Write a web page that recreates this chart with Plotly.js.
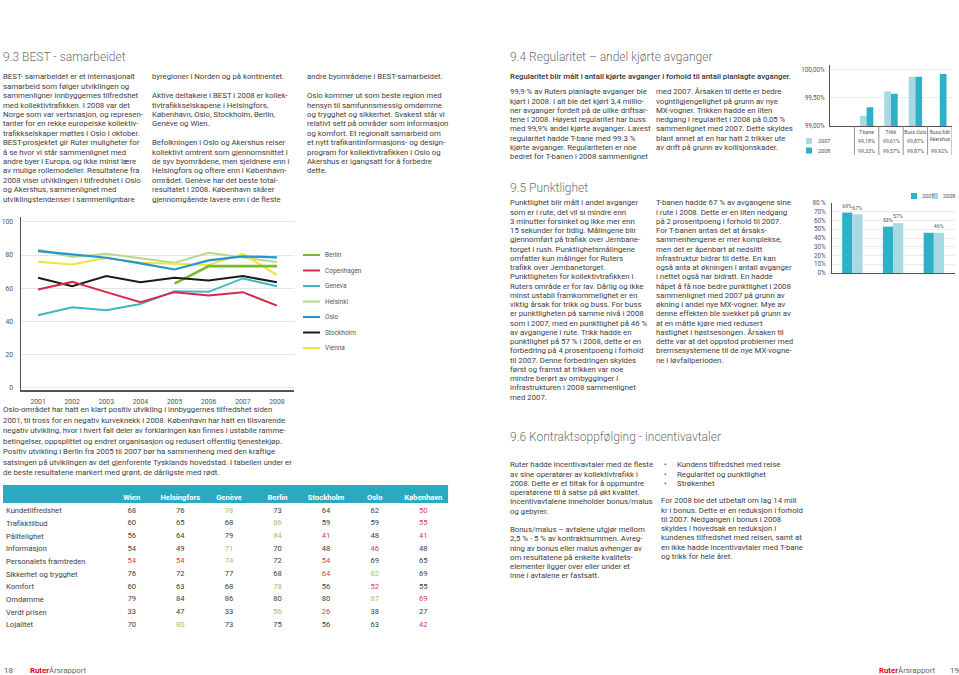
<!DOCTYPE html>
<html><head><meta charset="utf-8">
<script src="https://cdn.plot.ly/plotly-3.0.1.min.js"></script>
<style>
body{margin:0;background:#fff;}
#page{position:relative;width:959px;height:675px;overflow:hidden;font-family:Roboto,"Open Sans",sans-serif;color:#3e3e3e;}
.t{position:absolute;white-space:nowrap;font-size:7.8px;}
.l{line-height:9.4px;}
.r{line-height:9.25px;}
.h{position:absolute;white-space:nowrap;font-size:12px;line-height:14px;color:#707070;font-weight:300;}
.chart{position:absolute;}
.red{color:#e2001a;font-weight:700;}
</style></head><body><div id="page">

<div class="h" style="left:3px;top:50px;">9.3 BEST - samarbeidet</div>
<div class="t l" style="left:3px;top:72.3px;">BEST- samarbeidet er et internasjonalt<br>samarbeid som følger utviklingen og<br>sammenligner innbyggernes tilfredshet<br>med kollektivtrafikken. I 2008 var det<br>Norge som var vertsnasjon, og represen-<br>tanter for en rekke europeiske kollektiv-<br>trafikkselskaper møttes i Oslo i oktober.<br>BEST-prosjektet gir Ruter muligheter for<br>å se hvor vi står sammenlignet med<br>andre byer i Europa, og ikke minst lære<br>av mulige rollemodeller. Resultatene fra<br>2008 viser utviklingen i tilfredshet i Oslo<br>og Akershus, sammenlignet med<br>utviklingstendenser i sammenlignbare</div>
<div class="t l" style="left:152px;top:72.3px;">byregioner i Norden og på kontinentet.<br><br>Aktive deltakere i BEST i 2008 er kollek-<br>tivtrafikkselskapene i Helsingfors,<br>København, Oslo, Stockholm, Berlin,<br>Genève og Wien.<br><br>Befolkningen i Oslo og Akershus reiser<br>kollektivt omtrent som gjennomsnittet i<br>de syv byområdene, men sjeldnere enn i<br>Helsingfors og oftere enn i København-<br>området. Genève har det beste total-<br>resultatet i 2008. København skårer<br>gjennomgående lavere enn i de fleste</div>
<div class="t l" style="left:307px;top:72.3px;">andre byområdene i BEST-samarbeidet.<br><br>Oslo kommer ut som beste region med<br>hensyn til samfunnsmessig omdømme<br>og trygghet og sikkerhet. Svakest står vi<br>relativt sett på områder som informasjon<br>og komfort. Et regionalt samarbeid om<br>et nytt trafikantinformasjons- og design-<br>program for kollektivtrafikken i Oslo og<br>Akershus er igangsatt for å forbedre<br>dette.</div>

<div class="chart" id="lineChart" style="left:0px;top:205px;width:390px;height:210px;"></div>

<div class="t" style="left:3px;top:405px;line-height:10.5px;">Oslo-området har hatt en klart positiv utvikling i innbyggernes tilfredshet siden<br>2001, til tross for en negativ kurveknekk i 2008. København har hatt en tilsvarende<br>negativ utvikling, hvor i hvert fall deler av forklaringen kan finnes i ustabile ramme-<br>betingelser, oppsplittet og endret organisasjon og redusert offentlig tjenestekjøp.<br>Positiv utvikling i Berlin fra 2005 til 2007 bør ha sammenheng med den kraftige<br>satsingen på utviklingen av det gjenforente Tysklands hovedstad. I tabellen under er<br>de beste  resultatene markert med grønt, de dårligste med rødt.</div>

<div class="chart" id="tableChart" style="left:3px;top:485px;width:446px;height:152px;"></div>

<div class="h" style="left:510px;top:50px;">9.4 Regularitet – andel kjørte avganger</div>
<div class="t" style="left:510px;top:72.4px;line-height:9.25px;color:#333;font-weight:500;">Regularitet blir målt i antall kjørte avganger i forhold til antall planlagte avganger.</div>
<div class="t r" style="left:510px;top:87.4px;">99,9 % av Ruters planlagte avganger ble<br>kjørt i 2008. I alt ble det kjørt 3,4 millio-<br>ner avganger fordelt på de ulike driftsar-<br>tene i 2008. Høyest regularitet har buss<br>med 99,9% andel kjørte avganger. Lavest<br>regularitet hadde T-bane med 99.3 %<br>kjørte avganger. Regulariteten er noe<br>bedret for T-banen i 2008 sammenlignet</div>
<div class="t r" style="left:656px;top:87.4px;">med 2007. Årsaken til dette er bedre<br>vogntilgjengelighet på grunn av nye<br>MX-vogner. Trikken hadde en liten<br>nedgang i regularitet i 2008 på 0,05 %<br>sammenlignet med 2007. Dette skyldes<br>blant annet at en har hatt 2 trikker ute<br>av drift på grunn av kollisjonskader.</div>

<div class="chart" id="regChart" style="left:780px;top:55px;width:179px;height:110px;"></div>

<div class="h" style="left:510px;top:181px;">9.5 Punktlighet</div>
<div class="t r" style="left:510px;top:198.4px;">Punktlighet blir målt i andel avganger<br>som er i rute, det vil si mindre enn<br>3 minutter forsinket og ikke mer enn<br>15 sekunder for tidlig. Målingene blir<br>gjennomført på trafikk over Jernbane-<br>torget i rush. Punktlighetsmålingene<br>omfatter kun målinger for Ruters<br>trafikk over Jernbanetorget.<br>Punktligheten for kollektivtrafikken i<br>Ruters område er for lav. Dårlig og ikke<br>minst ustabil framkommelighet er en<br>viktig årsak for trikk og buss. For buss<br>er punktligheten på samme nivå i 2008<br>som i 2007, med en punktlighet på 46 %<br>av avgangene i rute. Trikk hadde en<br>punktlighet på 57 % i 2008, dette er en<br>forbedring på 4 prosentpoeng i forhold<br>til 2007. Denne forbedringen skyldes<br>først og framst at trikken var noe<br>mindre berørt av ombygginger i<br>infrastrukturen i 2008 sammenlignet<br>med 2007.</div>
<div class="t r" style="left:656px;top:198.4px;">T-banen hadde 67 % av avgangene sine<br>i rute i 2008. Dette er en liten nedgang<br>på 2 prosentpoeng i forhold til 2007.<br>For T-banen antas det at årsaks-<br>sammenhengene er mer komplekse,<br>men det er åpenbart at nedslitt<br>infrastruktur bidrar til dette. En kan<br>også anta at økningen i antall avganger<br>i nettet også har bidratt. En hadde<br>håpet å få noe bedre punktlighet i 2008<br>sammenlignet med 2007 på grunn av<br>økning i andel nye MX-vogner. Mye av<br>denne effekten ble svekket på grunn av<br>at en måtte kjøre med redusert<br>hastighet i høstsesongen. Årsaken til<br>dette var at det oppstod problemer med<br>bremsesystemene til de nye MX-vogne-<br>ne i løvfallperioden.</div>

<div class="chart" id="punktChart" style="left:780px;top:190px;width:179px;height:95px;"></div>

<div class="h" style="left:510px;top:430px;">9.6 Kontraktsoppfølging - incentivavtaler</div>
<div class="t r" style="left:510px;top:460.4px;">Ruter hadde incentivavtaler med de fleste<br>av sine operatører av kollektivtrafikk i<br>2008. Dette er et tiltak for å oppmuntre<br>operatørene til å satse på økt kvalitet.<br>Incentivavtalene inneholder bonus/malus<br>og gebyrer.<br><br>Bonus/malus – avtalene utgjør mellom<br>2,5 % - 5 % av kontraktsummen. Avreg-<br>ning av bonus eller malus avhenger av<br>om resultatene på enkelte kvalitets-<br>elementer ligger over eller under et<br>inne i avtalene er fastsatt.</div>
<div class="t r" style="left:664px;top:460.4px;">•<br>•<br>•</div>
<div class="t r" style="left:677px;top:460.4px;">Kundens tilfredshet med reise<br>Regularitet og punktlighet<br>Strøkenhet</div>
<div class="t r" style="left:661px;top:496.4px;">For 2008 ble det utbetalt om lag 14 mill<br>kr i bonus. Dette er en reduksjon i forhold<br>til 2007. Nedgangen i bonus i 2008<br>skyldes i hovedsak en reduksjon i<br>kundenes tilfredshet med reisen, samt at<br>en ikke hadde incentivavtaler med T-bane<br>og trikk for hele året.</div>

<div class="t" style="left:4px;top:666px;line-height:10px;color:#555;">18</div>
<div class="t" style="left:30px;top:666px;line-height:10px;color:#666;"><span class="red">Ruter</span>Årsrapport</div>
<div class="t" style="left:879px;top:666px;line-height:10px;color:#666;"><span class="red">Ruter</span>Årsrapport</div>
<div class="t" style="left:950px;top:666px;line-height:10px;color:#555;">19</div>

</div>
<script>
// ---- Line chart data (BEST satisfaction index) ----
const years = [2001, 2002, 2003, 2004, 2005, 2006, 2007, 2008];
const berlin = [null, null, null, null, 62.8, 73.3, 73.3, 73.3];
const copenhagen = [59.2, 63.8, 57.6, 51.5, 57.6, 55.6, 57.6, 49.5];
const geneva = [43.6, 48.5, 46.7, 50.5, 58.2, 57.8, 65.9, 61.2];
const helsinki = [83.4, 78.8, 80.8, 78.0, 75.4, 81.4, 78.8, 75.8];
const osloLine = [82.4, 80.4, 78.4, 75.0, 71.3, 76.8, 79.2, 78.6];
const stockholmLine = [66.3, 61.2, 67.3, 63.6, 66.3, 64.6, 67.3, 63.6];
const vienna = [76.0, 74.3, 78.4, 75.4, 74.7, 74.0, 80.8, 67.9];
const lineNames = ['Berlin', 'Copenhagen', 'Geneva', 'Helsinki', 'Oslo', 'Stockholm', 'Vienna'];
const yTicks = [0, 20, 40, 60, 80, 100];

// ---- Table data ----
const cities = ['Wien', 'Helsingfors', 'Genève', 'Berlin', 'Stockholm', 'Oslo', 'København'];
const criteria = ['Kundetilfredshet', 'Trafikktilbud', 'Pålitelighet', 'Informasjon', 'Personalets framtreden',
  'Sikkerhet og trygghet', 'Komfort', 'Omdømme', 'Verdt prisen', 'Lojalitet'];
const wien = [68, 60, 56, 54, 54, 76, 60, 79, 33, 70];
const helsingfors = [76, 65, 64, 49, 54, 72, 63, 84, 47, 80];
const geneve = [78, 68, 79, 71, 74, 77, 68, 86, 33, 73];
const berlinT = [73, 86, 84, 70, 72, 68, 78, 80, 56, 75];
const stockholmT = [64, 59, 41, 48, 54, 64, 56, 80, 26, 56];
const osloT = [62, 59, 48, 46, 69, 82, 52, 87, 38, 63];
const kobenhavn = [50, 55, 41, 48, 65, 69, 55, 69, 27, 42];

// ---- Regularity data ----
const regModes = ['T-bane', 'Trikk', 'Buss-Oslo', 'Buss/båt<br>Akershus'];
const reg2007 = [99.18, 99.61, 99.87, null];
const reg2008 = [99.33, 99.57, 99.87, 99.92];
const regTickVals = [99, 99.5, 100];
const regTickText = ['99,00%', '99,50%', '100,00%'];
const regYears = ['2007', '2008'];

// ---- Punctuality data ----
const punktModes = ['T-bane', 'Trikk', 'Buss'];
const punkt2007 = [69, 53, 46];
const punkt2008 = [67, 57, 46];
const punktTickVals = [0, 10, 20, 30, 40, 50, 60, 70, 80];
const punktTickText = ['0%', '10%', '20%', '30%', '40%', '50%', '60%', '70%', '80 %'];

const FONT = 'Roboto, "Open Sans", sans-serif';
const cfg = {staticPlot: true, displayModeBar: false};
const TRANSP = 'rgba(0,0,0,0)';

// ===== Line chart =====
const lineSeries = [berlin, copenhagen, geneva, helsinki, osloLine, stockholmLine, vienna];
const lineColors = ['#7cb82f', '#d9264a', '#3db6c5', '#b9d78e', '#1f98d3', '#1b1b1b', '#f1e43a'];
const lineWidths = [2.6, 2, 2, 2, 2.2, 2, 2];
const drawOrder = [3, 6, 4, 0, 5, 2, 1];
const lineTraces = drawOrder.map(i => ({
  type: 'scatter', mode: 'lines', x: years, y: lineSeries[i], name: lineNames[i],
  line: {color: lineColors[i], width: lineWidths[i]}, connectgaps: false, showlegend: false
}));
const L = {l: 21, r: 96, t: 12, b: 25, w: 390, h: 210};
const pw = L.w - L.l - L.r, ph = L.h - L.t - L.b;
const px = p => (p - L.l) / pw;
const py = p => (L.h - L.b - (p - 205)) / ph;
const legShapes = [], legAnn = [];
lineNames.forEach((n, i) => {
  const yc = 255 + i * 15.5;
  legShapes.push({type: 'line', xref: 'paper', yref: 'paper', x0: px(303), x1: px(320), y0: py(yc), y1: py(yc),
    line: {color: lineColors[i], width: 2}});
  legAnn.push({xref: 'paper', yref: 'paper', x: px(323), y: py(yc), xanchor: 'left', yanchor: 'middle',
    text: n, showarrow: false, font: {size: 6.5, color: '#555'}});
});
Plotly.newPlot('lineChart', lineTraces, {
  width: L.w, height: L.h, margin: {l: L.l, r: L.r, t: L.t, b: L.b},
  paper_bgcolor: TRANSP, plot_bgcolor: TRANSP,
  font: {family: FONT, size: 6.8, color: '#555'},
  xaxis: {range: [2000.5, 2008.5], tickvals: years, showgrid: false, zeroline: false, showline: true,
    linecolor: '#555', linewidth: 1.5, ticks: 'outside', ticklen: 4, tickcolor: TRANSP},
  yaxis: {range: [-1.5, 103], tickvals: yTicks, showgrid: true, gridcolor: '#e4e4e4', gridwidth: 1,
    zeroline: false, showline: true, linecolor: '#555', linewidth: 1.5, ticks: 'outside', ticklen: 5, tickcolor: TRANSP},
  shapes: legShapes, annotations: legAnn, showlegend: false
}, cfg);

// ===== Table (text marks on category-like numeric axes) =====
const tableCols = [wien, helsingfors, geneve, berlinT, stockholmT, osloT, kobenhavn];
const GREEN = '#9cc46a', RED = '#d4405d', DARK = '#3e3e3e';
const rowMax = criteria.map((c, r) => Math.max(...tableCols.map(col => col[r])));
const rowMin = criteria.map((c, r) => Math.min(...tableCols.map(col => col[r])));
const tx = [], ty = [], tt = [], tc = [];
tableCols.forEach((col, ci) => col.forEach((v, r) => {
  tx.push(ci); ty.push(r); tt.push(String(v));
  tc.push(v === rowMax[r] ? GREEN : (v === rowMin[r] ? RED : DARK));
}));
const T = {w: 446, h: 152, t: 18};
const tph = T.h - T.t;
const rowPitch = 12.67, firstRow = 7.7, colPitch = 48.6, firstCol = 128.7;
Plotly.newPlot('tableChart', [{
  type: 'scatter', mode: 'text', x: tx, y: ty, text: tt, textposition: 'middle center',
  textfont: {family: FONT, size: 7.6, color: tc}, cliponaxis: false, hoverinfo: 'skip'
}], {
  width: T.w, height: T.h, margin: {l: 0, r: 0, t: T.t, b: 0},
  paper_bgcolor: TRANSP, plot_bgcolor: TRANSP, showlegend: false,
  font: {family: FONT, size: 7.6, color: DARK},
  xaxis: {range: [-firstCol / colPitch, (T.w - firstCol) / colPitch], side: 'top', tickvals: cities.map((c, i) => i),
    ticktext: cities.map(c => '<b>' + c + '</b>'), ticks: '', ticklen: 0, showgrid: false, zeroline: false,
    showline: false, tickfont: {size: 7.6, color: '#ffffff'}},
  yaxis: {range: [(tph - firstRow) / rowPitch, -firstRow / rowPitch], tickvals: criteria.map((c, i) => i),
    ticktext: criteria, ticklabelposition: 'inside', ticks: '', showgrid: false, zeroline: false, showline: false,
    tickfont: {size: 7.6, color: DARK}},
  shapes: [{type: 'rect', xref: 'paper', yref: 'paper', x0: 0, x1: 0.998, y0: 1, y1: 1 + T.t / tph,
    fillcolor: '#2aa9c1', line: {width: 0}, layer: 'below'}]
}, cfg);

// ===== Regularity chart =====
const LIGHT = '#a7d9e3', TEAL = '#2db1c6';
const R = {l: 50, r: 7, t: 10, b: 39, w: 179, h: 110};
const rpw = R.w - R.l - R.r, rph = R.h - R.t - R.b;
const rxp = p => (p - 780 - R.l) / rpw;
const ryp = p => (R.h - R.b - (p - 55)) / rph;
const fmt = v => v == null ? '' : v.toFixed(2).replace('.', ',') + '%';
const regAnn = [], regShapes = [];
[reg2007, reg2008].forEach((arr, k) => {
  const yc = k === 0 ? 141 : 150.5;
  arr.forEach((v, i) => regAnn.push({xref: 'x', yref: 'paper', x: i, y: ryp(yc), text: fmt(v), showarrow: false,
    font: {size: 5.3, color: '#555'}, xanchor: 'center', yanchor: 'middle'}));
  regAnn.push({xref: 'paper', yref: 'paper', x: rxp(816), y: ryp(yc), text: regYears[k], showarrow: false,
    xanchor: 'left', yanchor: 'middle', font: {size: 5.5, color: '#555'}});
  regShapes.push({type: 'rect', xref: 'paper', yref: 'paper', x0: rxp(806), x1: rxp(812), y0: ryp(yc - 3), y1: ryp(yc + 3),
    fillcolor: k === 0 ? LIGHT : TEAL, line: {width: 0}});
});
[-0.5, 0.5, 1.5, 2.5, 3.5].forEach(x => regShapes.push({type: 'line', xref: 'x', yref: 'paper', x0: x, x1: x,
  y0: 0, y1: ryp(155), line: {color: '#777', width: 0.8}}));
Plotly.newPlot('regChart', [
  {type: 'bar', x: regModes, y: reg2007, name: '2007', marker: {color: LIGHT}},
  {type: 'bar', x: regModes, y: reg2008, name: '2008', marker: {color: TEAL}}
], {
  width: R.w, height: R.h, margin: {l: R.l, r: R.r, t: R.t, b: R.b},
  paper_bgcolor: TRANSP, plot_bgcolor: TRANSP, barmode: 'group', bargap: 0.45, bargroupgap: 0,
  font: {family: FONT, size: 6, color: '#555'}, showlegend: false,
  xaxis: {type: 'category', range: [-1.5, 3.5], showgrid: false, showline: true, linecolor: '#555', linewidth: 1,
    ticks: 'outside', ticklen: 1, tickcolor: TRANSP, tickangle: 0, tickfont: {size: 5, color: '#555'}},
  yaxis: {range: [99, 100.08], tickvals: regTickVals, ticktext: regTickText, showgrid: true, gridcolor: '#ececec',
    zeroline: false, showline: true, linecolor: '#555', linewidth: 1, ticks: 'outside', ticklen: 3, tickcolor: TRANSP,
    tickfont: {size: 6.3, color: '#555'}},
  annotations: regAnn, shapes: regShapes
}, cfg);

// ===== Punctuality chart =====
const P = {l: 52, r: 4, t: 13, b: 12, w: 179, h: 95};
const ppw = P.w - P.l - P.r, pph = P.h - P.t - P.b;
const pxp = p => (p - 780 - P.l) / ppw;
const pyp = p => (P.h - P.b - (p - 190)) / pph;
const txt2007 = punkt2007.map((v, i) => v === punkt2008[i] ? '' : v + '%');
const txt2008 = punkt2008.map(v => v + '%');
const punktShapes = [
  {type: 'rect', xref: 'paper', yref: 'paper', x0: pxp(911), x1: pxp(917), y0: pyp(199), y1: pyp(193), fillcolor: TEAL, line: {width: 0}},
  {type: 'rect', xref: 'paper', yref: 'paper', x0: pxp(932), x1: pxp(938), y0: pyp(199), y1: pyp(193), fillcolor: LIGHT, line: {width: 0}}
];
const punktAnn = [
  {xref: 'paper', yref: 'paper', x: pxp(919.5), y: pyp(196), text: regYears[0], showarrow: false, xanchor: 'left', yanchor: 'middle', font: {size: 5.5, color: '#555'}},
  {xref: 'paper', yref: 'paper', x: pxp(940.5), y: pyp(196), text: regYears[1], showarrow: false, xanchor: 'left', yanchor: 'middle', font: {size: 5.5, color: '#555'}}
];
Plotly.newPlot('punktChart', [
  {type: 'bar', x: punktModes, y: punkt2007, name: '2007', marker: {color: TEAL}, text: txt2007, textposition: 'outside',
    cliponaxis: false, textfont: {size: 6.2, color: '#555'}},
  {type: 'bar', x: punktModes, y: punkt2008, name: '2008', marker: {color: LIGHT}, text: txt2008, textposition: 'outside',
    cliponaxis: false, textfont: {size: 6.2, color: '#555'}}
], {
  width: P.w, height: P.h, margin: {l: P.l, r: P.r, t: P.t, b: P.b},
  paper_bgcolor: TRANSP, plot_bgcolor: TRANSP, barmode: 'group', bargap: 0.5, bargroupgap: 0,
  font: {family: FONT, size: 6.3, color: '#555'}, showlegend: false,
  xaxis: {type: 'category', range: [-0.5, 2.52], showticklabels: false, showgrid: false, showline: true,
    linecolor: '#555', linewidth: 1, ticks: ''},
  yaxis: {range: [0, 80], tickvals: punktTickVals, ticktext: punktTickText, showgrid: true, gridcolor: '#ececec',
    zeroline: false, showline: true, linecolor: '#555', linewidth: 1, ticks: 'outside', ticklen: 4, tickcolor: TRANSP,
    tickfont: {size: 6.3, color: '#555'}},
  shapes: punktShapes, annotations: punktAnn
}, cfg);
</script>
</body></html>
